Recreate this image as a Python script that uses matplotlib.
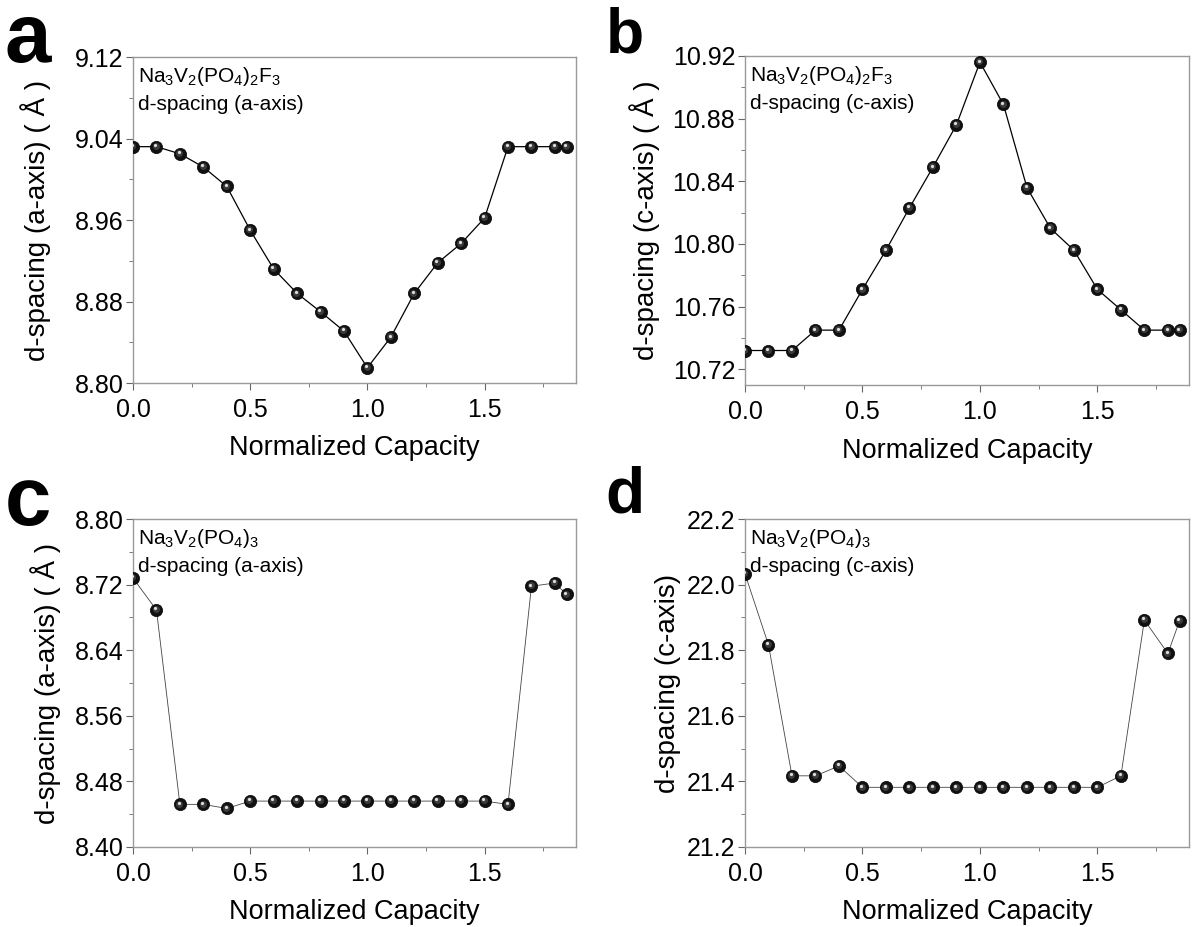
import matplotlib
matplotlib.use("Agg")
import matplotlib.pyplot as plt
import matplotlib.transforms as mtransforms
from matplotlib.ticker import MultipleLocator, AutoMinorLocator, FormatStrFormatter

plt.rcParams['font.family'] = ['Liberation Sans', 'DejaVu Sans']
plt.rcParams['mathtext.default'] = 'regular'

# normalized capacity (shared by all panels)
capacity = [0.0, 0.1, 0.2, 0.3, 0.4, 0.5, 0.6, 0.7, 0.8, 0.9,
            1.0, 1.1, 1.2, 1.3, 1.4, 1.5, 1.6, 1.7, 1.8, 1.85]

# Na3V2(PO4)2F3
nvpf_a = [9.032, 9.032, 9.025, 9.012, 8.993, 8.950, 8.912, 8.888, 8.870, 8.851,
          8.815, 8.845, 8.888, 8.918, 8.937, 8.962, 9.032, 9.032, 9.032, 9.032]
nvpf_c = [10.732, 10.732, 10.732, 10.745, 10.745, 10.771, 10.796, 10.823, 10.849, 10.876,
          10.916, 10.889, 10.836, 10.810, 10.796, 10.771, 10.758, 10.745, 10.745, 10.745]

# Na3V2(PO4)3
nvp_a = [8.728, 8.689, 8.452, 8.452, 8.447, 8.456, 8.456, 8.456, 8.456, 8.456,
         8.456, 8.456, 8.456, 8.456, 8.456, 8.456, 8.452, 8.718, 8.722, 8.708]
nvp_c = [22.033, 21.816, 21.417, 21.417, 21.447, 21.382, 21.382, 21.382, 21.382, 21.382,
         21.382, 21.382, 21.382, 21.382, 21.382, 21.382, 21.417, 21.892, 21.790, 21.890]

panels = [
    ('a', nvpf_a, r'Na$_3$V$_2$(PO$_4$)$_2$F$_3$', 'd-spacing (a-axis)',
     'd-spacing (a-axis) ( Å )', (8.80, 9.12), 0.08),
    ('b', nvpf_c, r'Na$_3$V$_2$(PO$_4$)$_2$F$_3$', 'd-spacing (c-axis)',
     'd-spacing (c-axis) ( Å )', (10.71, 10.92), 0.04),
    ('c', nvp_a, r'Na$_3$V$_2$(PO$_4$)$_3$', 'd-spacing (a-axis)',
     'd-spacing (a-axis) ( Å )', (8.40, 8.80), 0.08),
    ('d', nvp_c, r'Na$_3$V$_2$(PO$_4$)$_3$', 'd-spacing (c-axis)',
     'd-spacing (c-axis)', (21.2, 22.2), 0.2),
]

# axes boxes in figure fractions
boxes = [
    [0.1116, 0.5868, 0.3716, 0.3517],
    [0.625, 0.5847, 0.3725, 0.355],
    [0.1116, 0.0863, 0.3716, 0.3538],
    [0.625, 0.0863, 0.3725, 0.3538],
]
ylabel_x = [-0.186, -0.192, -0.163, -0.145]
letter_pos = [(0.004, 0.933, 60), (0.508, 0.943, 45), (0.004, 0.434, 60), (0.508, 0.447, 46)]
fmts = ['%.2f', '%.2f', '%.2f', '%.1f']

fig = plt.figure(figsize=(11.92, 9.27), dpi=100)

for i, (letter, y, formula, sub, ylabel, ylim, step) in enumerate(panels):
    ax = fig.add_axes(boxes[i])
    lw = 0.9 if i < 2 else 0.6
    lc = 'black' if i < 2 else '#444444'
    ax.plot(capacity, y, '-', color=lc, lw=lw, zorder=2)
    # sphere-like markers: dark ball + small highlight offset to upper left
    ax.plot(capacity, y, 'o', ms=8.8, mfc='#111111', mec='#000000', mew=0.5, zorder=3)
    ax.plot(capacity, y, 'o', ms=5, mfc='#3c3c3c', mec='none', zorder=4,
            transform=ax.transData + mtransforms.ScaledTranslation(-0.8 / 100, 0.8 / 100, fig.dpi_scale_trans))
    ax.plot(capacity, y, 'o', ms=2.3, mfc='#dddddd', mec='none', zorder=5,
            transform=ax.transData + mtransforms.ScaledTranslation(-1.2 / 100, 1.6 / 100, fig.dpi_scale_trans))

    ax.set_xlim(0, 1.89)
    ax.set_ylim(*ylim)
    ax.xaxis.set_major_locator(MultipleLocator(0.5))
    ax.xaxis.set_minor_locator(MultipleLocator(0.25))
    ax.yaxis.set_major_locator(MultipleLocator(step))
    ax.yaxis.set_minor_locator(AutoMinorLocator(2))
    ax.yaxis.set_major_formatter(FormatStrFormatter(fmts[i]))

    for s in ax.spines.values():
        s.set_color('#999999')
        s.set_linewidth(1.0)
    ax.tick_params(axis='both', which='major', direction='out', length=5, width=0.8,
                   color='#666666', labelsize=18)
    ax.tick_params(axis='both', which='minor', direction='out', length=3, width=0.6,
                   color='#666666')
    ax.tick_params(axis='x', which='both', top=False, pad=6)
    ax.tick_params(axis='y', which='both', right=False, pad=2)

    ax.set_xlabel('Normalized Capacity', fontsize=19.5)
    ax.xaxis.set_label_coords(0.5, -0.16)
    ax.set_ylabel(ylabel, fontsize=20)
    ax.yaxis.set_label_coords(ylabel_x[i], 0.5)

    ax.text(0.012, 0.975, formula, transform=ax.transAxes, fontsize=15,
            va='top', ha='left')
    ax.text(0.012, 0.885, sub, transform=ax.transAxes, fontsize=15,
            va='top', ha='left')

    lx, ly, fs = letter_pos[i]
    fig.text(lx, ly, letter, fontsize=fs, fontweight='bold', ha='left', va='baseline')

fig.savefig('out.png', dpi=100)
